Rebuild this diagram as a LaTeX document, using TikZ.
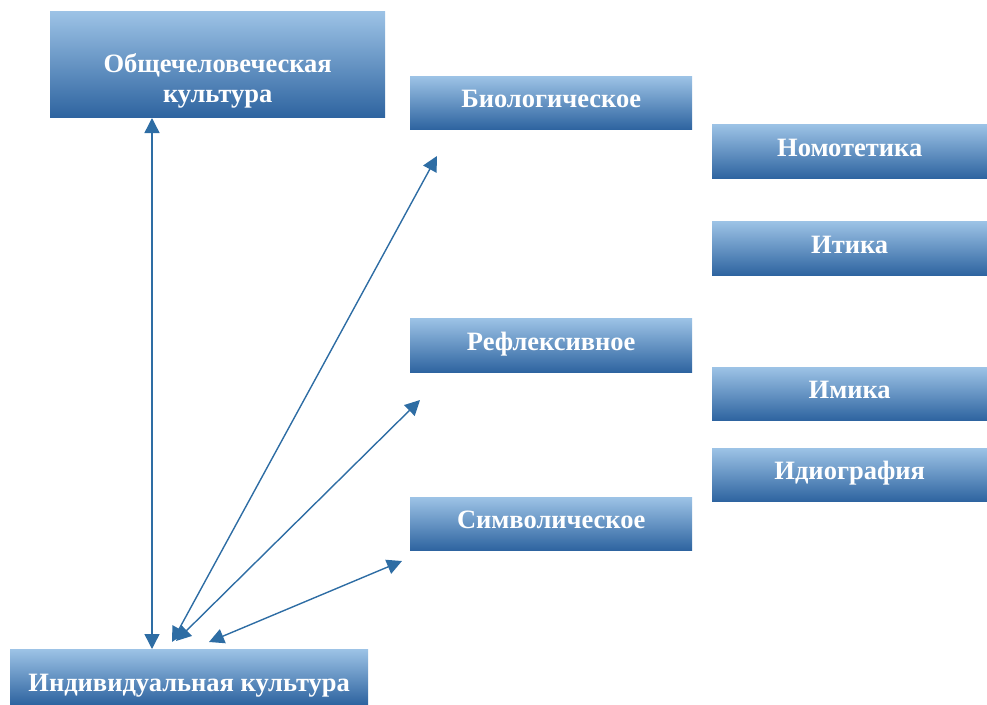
\documentclass[tikz,border=0pt]{standalone}
\usepackage{fontspec}
\setmainfont{Liberation Serif}
\usetikzlibrary{arrows.meta}

\definecolor{boxtop}{RGB}{157,195,230}
\definecolor{boxmid}{RGB}{91,155,213}
\definecolor{boxbot}{RGB}{46,100,160}
\definecolor{linkblue}{RGB}{46,109,164}

% text moved by #1 from the box centre, without changing the box
\newcommand{\lift}[2]{\raisebox{#1}[0pt][0pt]{#2}}

\begin{document}
\begin{tikzpicture}[x=1pt,y=-1pt]
\tikzstyle{block} = [rectangle, anchor=north west, top color=boxtop, middle color=boxmid,
bottom color=boxbot, draw=none, text=white, font=\bfseries\fontsize{26.5}{30}\selectfont,
align=center, inner sep=0pt]
\tikzstyle{line} = [draw=linkblue, line width=1.4pt, {Triangle[length=15pt,width=15pt]}-{Triangle[length=15pt,width=15pt]}]

\useasboundingbox (0,0) rectangle (987,704);

% left column
\node [block, minimum width=335pt, minimum height=106pt] (common) at (50,11)
  {\lift{-38pt}{\begin{tabular}[b]{@{}c@{}}Общечеловеческая\\культура\end{tabular}}};
\node [block, minimum width=358pt, minimum height=55pt] (indiv) at (10,649) {\lift{-15pt}{Индивидуальная культура}};

% middle column
\node [block, minimum width=282pt, minimum height=53pt] (bio) at (410,76) {\lift{-5pt}{Биологическое}};
\node [block, minimum width=282pt, minimum height=54pt] (refl) at (410,318) {\lift{-5pt}{Рефлексивное}};
\node [block, minimum width=282pt, minimum height=53pt] (symb) at (410,497) {\lift{-5pt}{Символическое}};

% right column
\node [block, minimum width=275pt, minimum height=54pt] (nomo) at (712,124) {\lift{-5pt}{Номотетика}};
\node [block, minimum width=275pt, minimum height=54pt] (itika) at (712,221) {\lift{-5pt}{Итика}};
\node [block, minimum width=275pt, minimum height=53pt] (imika) at (712,367) {\lift{-5pt}{Имика}};
\node [block, minimum width=275pt, minimum height=53pt] (idio) at (712,448) {\lift{-5pt}{Идиография}};

% free ends of the links
\coordinate (commonEnd) at (152,118);
\coordinate (indivTop) at (152,649);
\coordinate (indivBio) at (172,642);
\coordinate (indivRefl) at (176,641);
\coordinate (indivSymb) at (209,642);
\coordinate (bioEnd) at (437,156);
\coordinate (reflEnd) at (420,400);
\coordinate (symbEnd) at (402,561);

\path [line] (commonEnd) -- (indivTop);
\path [line] (indivBio) -- (bioEnd);
\path [line] (indivRefl) -- (reflEnd);
\path [line] (indivSymb) -- (symbEnd);
\end{tikzpicture}
\end{document}
